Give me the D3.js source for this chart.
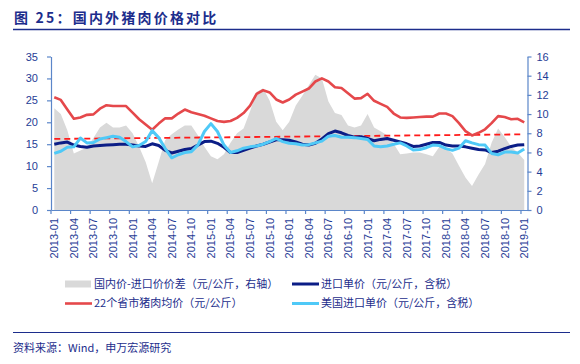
<!DOCTYPE html>
<html>
<head>
<meta charset="utf-8">
<script src="https://cdn.jsdelivr.net/npm/d3@7"></script>
<style>
  html, body { margin: 0; padding: 0; background: #ffffff; }
  svg { display: block; }
  text { font-family: "Liberation Sans", Arial, "Noto Sans CJK SC", sans-serif; }
  .cjk { font-family: "Noto Sans CJK SC", "Liberation Sans", sans-serif; }
</style>
</head>
<body>
<svg id="chart" width="580" height="364"></svg>
<script>
// ---------------- DATA ----------------
const startYear = 2013;
const monthCount = 73; // 2013-01 ... 2019-01
const months = d3.range(monthCount).map(i =>
  `${startYear + Math.floor(i / 12)}-${String(i % 12 + 1).padStart(2, "0")}`);

const tickLabels = ["2013-01","2013-04","2013-07","2013-10","2014-01","2014-04","2014-07","2014-10",
  "2015-01","2015-04","2015-07","2015-10","2016-01","2016-04","2016-07","2016-10",
  "2017-01","2017-04","2017-07","2017-10","2018-01","2018-04","2018-07","2018-10","2019-01"];

const leftTicks = [0, 5, 10, 15, 20, 25, 30, 35];
const rightTicks = [0, 2, 4, 6, 8, 10, 12, 14, 16];

// 国内价-进口价价差 (right axis)
const spread = [10.6,10.0,8.3,5.9,6.2,6.5,7.5,8.6,9.1,8.6,8.6,8.8,8.0,6.6,5.0,2.8,5.0,7.3,7.9,8.4,8.8,8.8,
  7.8,6.6,5.6,5.3,5.8,7.0,8.0,8.5,10.3,12.3,12.7,11.4,9.2,8.3,9.2,
  10.9,11.9,13.0,14.1,13.7,11.3,10.1,9.9,8.8,8.6,8.8,10.0,
  8.6,8.2,7.8,6.9,5.8,5.9,6.0,6.0,5.8,5.6,6.6,6.4,5.9,4.6,3.4,2.5,3.7,4.8,7.0,8.5,7.6,6.6,6.0,5.2];

// 进口单价 (left axis)
const importPrice = [15.0,15.3,15.5,14.8,14.5,14.3,14.6,14.7,14.8,14.9,15.0,15.0,14.8,14.6,14.5,15.1,14.7,13.6,
  13.0,13.4,13.8,14.0,14.8,15.6,15.7,15.2,14.3,13.1,13.1,13.6,14.1,14.6,15.0,15.5,16.0,16.0,15.9,
  15.5,15.0,14.8,15.2,16.2,17.4,18.0,17.6,17.0,16.6,16.7,16.3,
  15.8,16.1,16.3,15.9,15.5,15.1,14.5,14.6,15.0,15.4,15.4,14.8,14.6,14.6,14.4,14.1,13.8,13.7,13.1,13.4,14.0,14.5,14.8,14.9];

// 22个省市猪肉均价 (left axis)
const domesticPrice = [25.7,25.1,22.9,20.8,21.1,21.7,21.8,23.1,23.9,23.7,23.7,23.7,22.2,20.7,19.5,18.3,19.7,20.9,20.9,22.0,22.9,22.3,21.9,
  21.5,20.9,20.3,20.1,20.3,21.0,22.1,23.8,26.5,27.3,26.8,25.2,24.5,25.2,
  26.3,27.0,27.7,29.3,30.0,29.3,28.0,27.8,26.6,25.4,25.5,26.5,
  24.9,24.2,23.5,22.0,21.1,21.0,21.1,21.2,21.3,21.3,22.0,22.0,21.4,19.8,18.0,17.0,17.6,18.4,19.8,21.4,21.2,20.7,20.8,20.0];

// 美国进口单价 (left axis)
const usImportPrice = [12.9,13.4,14.3,14.4,16.4,15.3,15.4,16.2,16.5,16.8,16.6,15.6,14.4,14.7,15.6,18.1,16.5,14.0,11.9,12.6,13.1,13.3,
  14.8,17.9,19.7,17.9,14.8,13.1,13.5,14.1,14.4,14.6,15.0,15.6,16.3,15.6,15.2,
  15.1,14.8,14.9,15.3,15.7,16.8,17.0,16.6,16.6,16.5,16.3,16.1,
  14.6,14.4,14.6,15.0,15.3,14.6,13.7,13.8,14.2,14.8,14.7,14.0,13.6,14.1,15.8,15.3,14.9,14.8,12.9,12.6,13.2,13.2,13.0,13.9];

// dashed reference line (left axis), first and last month
const trendMonths = ["2013-01", "2019-01"];
const trendValues = [16.2, 17.25];

const legendLabels = ["国内价-进口价价差（元/公斤，右轴）", "进口单价（元/公斤，含税）",
                      "22个省市猪肉均价（元/公斤）", "美国进口单价（元/公斤，含税）"];
const titleText = "图 25：国内外猪肉价格对比";
const sourceText = "资料来源：Wind，申万宏源研究";

// ---------------- STYLE ----------------
const C = {
  gray: "#d9d9d9", navy: "#0b1d86", red: "#e5484b", light: "#4fc9f7", dash: "#ff1a1a",
  axis: "#5b86c9", tick: "#1f3d96", title: "#1c2d8c"
};

const svg = d3.select("#chart");
const plot = { left: 51, right: 527.5, top: 56.5, bottom: 210 };

const x = d3.scaleBand().domain(months).range([plot.left, plot.right]).padding(0);
const bw = x.bandwidth();
const cx = m => x(m) + bw / 2;
const yL = d3.scaleLinear().domain([0, 35]).range([plot.bottom, plot.top]);
const yR = d3.scaleLinear().domain([0, 16]).range([plot.bottom, plot.top]);

// Title
svg.append("text").attr("class", "cjk").attr("x", 14).attr("y", 23)
  .attr("fill", C.title).attr("font-size", 14).attr("font-weight", "bold")
  .attr("letter-spacing", 2.2).text(titleText);
svg.append("line").attr("x1", 13).attr("x2", 570).attr("y1", 29.5).attr("y2", 29.5)
  .attr("stroke", C.title).attr("stroke-width", 1.6);

// Area (right axis)
const area = d3.area().x((d, i) => cx(months[i])).y0(yR(0)).y1(d => yR(d));
svg.append("path").datum(spread).attr("d", area).attr("fill", C.gray);

// dashed line
svg.append("path").datum(trendValues)
  .attr("d", d3.line().x((d, i) => cx(trendMonths[i])).y(d => yL(d)))
  .attr("fill", "none").attr("stroke", C.dash).attr("stroke-width", 1.8)
  .attr("stroke-dasharray", "6,4");

const line = d3.line().x((d, i) => cx(months[i])).y(d => yL(d));
function drawLine(data, color, w) {
  svg.append("path").datum(data).attr("d", line).attr("fill", "none")
    .attr("stroke", color).attr("stroke-width", w).attr("stroke-linejoin", "round");
}
drawLine(importPrice, C.navy, 3);
drawLine(domesticPrice, C.red, 2.6);
drawLine(usImportPrice, C.light, 3);

// Axes
function styleAxis(g) {
  g.select(".domain").attr("stroke", C.axis).attr("stroke-width", 1.2);
  g.selectAll(".tick line").attr("stroke", C.axis).attr("stroke-width", 1.2);
  g.selectAll(".tick text").attr("fill", C.tick).attr("font-size", 11)
    .attr("font-family", "'Liberation Sans', Arial, sans-serif");
}
const gL = svg.append("g").attr("transform", `translate(${plot.left},0)`)
  .call(d3.axisLeft(yL).tickValues(leftTicks).tickSize(4).tickSizeOuter(0).tickPadding(9));
styleAxis(gL);
const gR = svg.append("g").attr("transform", `translate(${plot.right},0)`)
  .call(d3.axisRight(yR).tickValues(rightTicks).tickSize(4).tickSizeOuter(0).tickPadding(5));
styleAxis(gR);
const gX = svg.append("g").attr("transform", `translate(0,${plot.bottom})`)
  .call(d3.axisBottom(x).tickValues(tickLabels).tickSize(4).tickSizeOuter(0));
styleAxis(gX);
gX.selectAll(".tick line").attr("x1", -bw / 2).attr("x2", -bw / 2);
gX.selectAll(".tick text").attr("transform", "rotate(-90)")
  .attr("x", -8).attr("y", 0).attr("dy", "0.36em").style("text-anchor", "end");

// Legend
const legend = [
  { label: legendLabels[0], type: "rect", color: C.gray, x: 65, y: 284 },
  { label: legendLabels[1], type: "line", color: C.navy, w: 3, x: 292, y: 284 },
  { label: legendLabels[2], type: "line", color: C.red, w: 2.6, x: 65, y: 303.5 },
  { label: legendLabels[3], type: "line", color: C.light, w: 3, x: 292, y: 303.5 }
];
legend.forEach(d => {
  if (d.type === "rect") {
    svg.append("rect").attr("x", d.x).attr("y", d.y - 3.5).attr("width", 26).attr("height", 7).attr("fill", d.color);
  } else {
    svg.append("line").attr("x1", d.x).attr("x2", d.x + 27).attr("y1", d.y).attr("y2", d.y)
      .attr("stroke", d.color).attr("stroke-width", d.w);
  }
  svg.append("text").attr("class", "cjk").attr("x", d.x + 29).attr("y", d.y).attr("dy", "0.36em")
    .attr("fill", C.title).attr("font-size", 11).text(d.label);
});

// Footer
svg.append("line").attr("x1", 13).attr("x2", 570).attr("y1", 332.5).attr("y2", 332.5)
  .attr("stroke", C.title).attr("stroke-width", 1.2);
svg.append("text").attr("class", "cjk").attr("x", 13).attr("y", 348).attr("dy", "0.36em")
  .attr("fill", C.title).attr("font-size", 11).text(sourceText);
</script>
</body>
</html>
